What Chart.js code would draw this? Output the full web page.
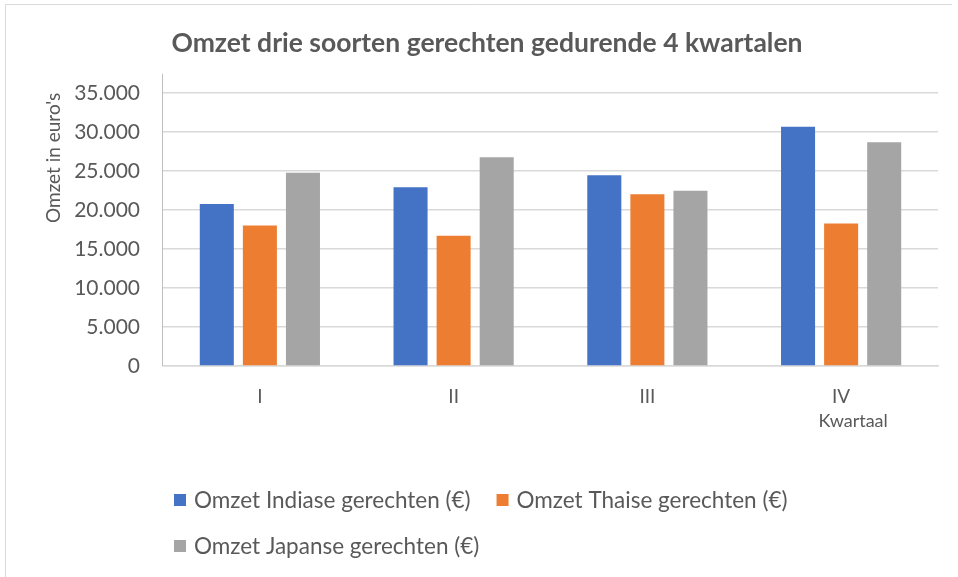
<!DOCTYPE html>
<html>
<head>
<meta charset="utf-8">
<script src="https://cdn.jsdelivr.net/npm/chart.js@4.4.1/dist/chart.umd.min.js"></script>
<style>
  html, body { margin: 0; padding: 0; background: #fff; }
  #wrap { position: relative; width: 958px; height: 577px; }
</style>
</head>
<body>
<div id="wrap"><canvas id="omzetChart" width="958" height="577"></canvas></div>
<script>
// data
const kwartalen = ['I', 'II', 'III', 'IV'];
const omzetIndiase = [20750, 22900, 24450, 30650];
const omzetThaise = [18000, 16700, 22000, 18250];
const omzetJapanse = [24750, 26750, 22450, 28650];
const reeksNamen = ['Omzet Indiase gerechten (€)', 'Omzet Thaise gerechten (€)', 'Omzet Japanse gerechten (€)'];
const yTicks = [0, 5000, 10000, 15000, 20000, 25000, 30000, 35000];

const titel = 'Omzet drie soorten gerechten gedurende 4 kwartalen';
const yTitel = "Omzet in euro's";
const xTitel = 'Kwartaal';

const kleuren = ['#4472C4', '#ED7D31', '#A5A5A5'];
const tekstKleur = '#595959';
const fontFam = 'Lato, "Open Sans", sans-serif';

// dutch thousands separator
function formatNL(v) {
    return String(v).replace(/\B(?=(\d{3})+(?!\d))/g, '.');
}

// frame, y-axis stub, "Kwartaal" label and the two-row legend
const extrasPlugin = {
    id: 'extras',
    beforeDraw(chart) {
        const ctx = chart.ctx;
        ctx.save();
        ctx.strokeStyle = '#d9d9d9';
        ctx.lineWidth = 1;
        ctx.beginPath();
        ctx.moveTo(5.5, chart.height);
        ctx.lineTo(5.5, 4.5);
        ctx.lineTo(952, 4.5);
        ctx.stroke();
        ctx.restore();
    },
    afterDraw(chart) {
        const { ctx, chartArea, scales } = chart;
        ctx.save();

        ctx.strokeStyle = '#bfbfbf';
        ctx.lineWidth = 1;
        ctx.beginPath();
        ctx.moveTo(chartArea.left - 0.5, chartArea.top - 19);
        ctx.lineTo(chartArea.left - 0.5, chartArea.bottom);
        ctx.stroke();

        ctx.fillStyle = tekstKleur;
        ctx.font = '18px ' + fontFam;
        ctx.textAlign = 'center';
        ctx.textBaseline = 'middle';
        const xLast = scales.x.getPixelForValue(kwartalen.length - 1);
        ctx.fillText(xTitel, xLast + 12, chartArea.bottom + 55);

        // legend
        ctx.font = '22.5px ' + fontFam;
        ctx.textAlign = 'left';
        const startX = 174;
        let x = startX;
        let y = chartArea.bottom + 134;
        chart.data.datasets.forEach((ds, i) => {
            const w = 20 + ctx.measureText(ds.label).width;
            if (x + w > chartArea.right && x > startX) {
                x = startX;
                y += 46;
            }
            ctx.fillStyle = ds.backgroundColor;
            ctx.fillRect(x, y - 6, 12, 12);
            ctx.fillStyle = tekstKleur;
            ctx.fillText(ds.label, x + 20, y + 1);
            x += w + 26;
        });
        ctx.restore();
    }
};

const ctx = document.getElementById('omzetChart').getContext('2d');
const chart = new Chart(ctx, {
    type: 'bar',
    data: {
        labels: kwartalen,
        datasets: [
            { label: reeksNamen[0], data: omzetIndiase, backgroundColor: kleuren[0] },
            { label: reeksNamen[1], data: omzetThaise, backgroundColor: kleuren[1] },
            { label: reeksNamen[2], data: omzetJapanse, backgroundColor: kleuren[2] }
        ]
    },
    options: {
        responsive: false,
        animation: false,
        devicePixelRatio: 1,
        layout: { padding: { left: 36, right: 20, top: 0, bottom: 151 } },
        datasets: {
            bar: { categoryPercentage: 0.667, barPercentage: 0.79 }
        },
        scales: {
            x: {
                grid: { display: false, drawTicks: false },
                border: { display: true, color: '#d9d9d9', width: 1.5 },
                ticks: {
                    color: tekstKleur,
                    font: { family: fontFam, size: 19 },
                    padding: 19
                },
                afterFit(scale) { scale.height = 60; }
            },
            y: {
                min: 0,
                max: 35000,
                afterBuildTicks(scale) {
                    scale.ticks = yTicks.map(v => ({ value: v }));
                },
                grid: { color: '#d9d9d9', lineWidth: 1.5, drawTicks: false },
                border: { display: false },
                ticks: {
                    color: tekstKleur,
                    font: { family: fontFam, size: 21 },
                    padding: 23,
                    callback: v => formatNL(v)
                },
                title: {
                    display: true,
                    text: yTitel,
                    align: 'end',
                    color: tekstKleur,
                    font: { family: fontFam, size: 19 },
                    padding: { top: 6, bottom: 0 }
                },
                afterFit(scale) { scale.width = 127; }
            }
        },
        plugins: {
            legend: { display: false },
            tooltip: { enabled: false },
            title: {
                display: true,
                text: titel,
                color: tekstKleur,
                font: { family: fontFam, size: 26.5, weight: 'bold' },
                padding: { top: 28, bottom: 33 }
            }
        }
    },
    plugins: [extrasPlugin]
});
</script>
</body>
</html>
